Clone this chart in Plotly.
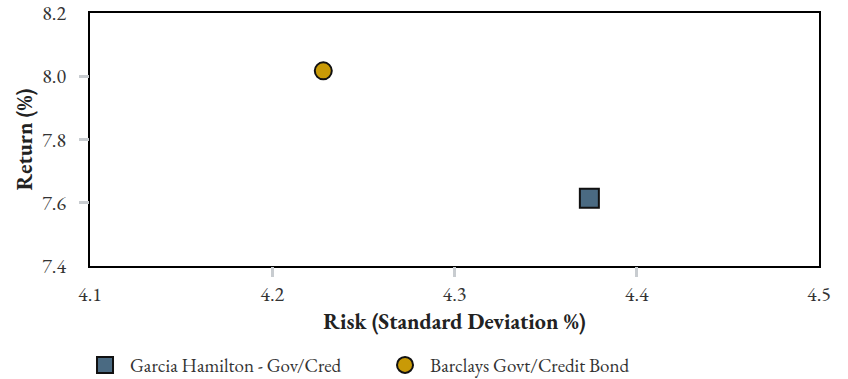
import plotly.graph_objects as go

# risk / return points
names = ["Garcia Hamilton - Gov/Cred", "Barclays Govt/Credit Bond"]
risk = [4.374, 4.228]
ret = [7.614, 8.017]
symbols = ["square", "circle"]
sizes = [19, 17]
colors = ["#4a6a82", "#c99a06"]

x_ticks = [4.1, 4.2, 4.3, 4.4, 4.5]
y_ticks = [7.4, 7.6, 7.8, 8.0, 8.2]

FONT = "EB Garamond, Garamond, Liberation Serif, serif"

fig = go.Figure()
for n, x, y, s, sz, c in zip(names, risk, ret, symbols, sizes, colors):
    fig.add_trace(
        go.Scatter(
            x=[x],
            y=[y],
            mode="markers",
            name=n,
            marker={"symbol": s, "size": sz, "color": c, "line": {"color": "#111111", "width": 2}},
        )
    )

# invisible trace on the overlay axes so they get drawn
fig.add_trace(
    go.Scatter(x=[x_ticks[0]], y=[y_ticks[0]], xaxis="x2", yaxis="y2",
               mode="markers", marker={"opacity": 0}, showlegend=False, hoverinfo="skip")
)

axis_common = dict(
    showgrid=False,
    zeroline=False,
    automargin=False,
    ticklabeloverflow="allow",
    tickfont={"family": FONT, "size": 20, "color": "#333333"},
)
title_font = {"family": FONT, "size": 22, "color": "#222222"}

# figure is a bit taller than the window so the bottom legend never pushes the margins
fig.update_layout(
    width=848,
    height=395,
    margin={"l": 90, "r": 29, "t": 13, "b": 128},
    plot_bgcolor="white",
    paper_bgcolor="white",
    font={"family": FONT, "color": "#222222"},
    xaxis=dict(
        axis_common,
        range=[4.1, 4.5],
        tickvals=x_ticks,
        ticktext=[f"{v:.1f}" for v in x_ticks],
        ticks="",
        ticklabelstandoff=9,
        showline=True,
        linecolor="black",
        linewidth=2,
        mirror=True,
        title={"text": "<b>Risk (Standard Deviation %)</b>", "font": title_font, "standoff": 3},
    ),
    yaxis=dict(
        axis_common,
        range=[7.4, 8.2],
        tickvals=y_ticks,
        ticktext=[f"{v:.1f}" for v in y_ticks],
        ticks="",
        ticklabelstandoff=18,
        showline=True,
        linecolor="black",
        linewidth=2,
        mirror=True,
        title={"text": "<b>Return (%)</b>", "font": title_font, "standoff": 3},
    ),
    # overlay axes carrying only the grey interior tick marks
    xaxis2=dict(
        overlaying="x",
        range=[4.1, 4.5],
        tickvals=x_ticks[1:-1],
        ticks="outside",
        ticklen=10,
        tickwidth=3,
        tickcolor="#c8ccd0",
        showticklabels=False,
        showgrid=False,
        zeroline=False,
        showline=False,
        automargin=False,
        anchor="y2",
    ),
    yaxis2=dict(
        overlaying="y",
        range=[7.4, 8.2],
        tickvals=y_ticks[1:-1],
        ticks="outside",
        ticklen=10,
        tickwidth=3,
        tickcolor="#c8ccd0",
        showticklabels=False,
        showgrid=False,
        zeroline=False,
        showline=False,
        automargin=False,
        anchor="x2",
    ),
    showlegend=True,
    legend={
        "orientation": "h",
        "x": -0.0137,
        "xanchor": "left",
        "y": -0.386,
        "yanchor": "middle",
        "itemwidth": 40,
        "entrywidth": 245,
        "font": {"family": FONT, "size": 19, "color": "#333333"},
        "itemsizing": "trace",
    },
)

# drop the browser's default body margin so the figure sits at the page corner
fig.write_html(
    "out.html",
    config={"displayModeBar": False},
    post_script="document.body.style.margin='0';",
)
